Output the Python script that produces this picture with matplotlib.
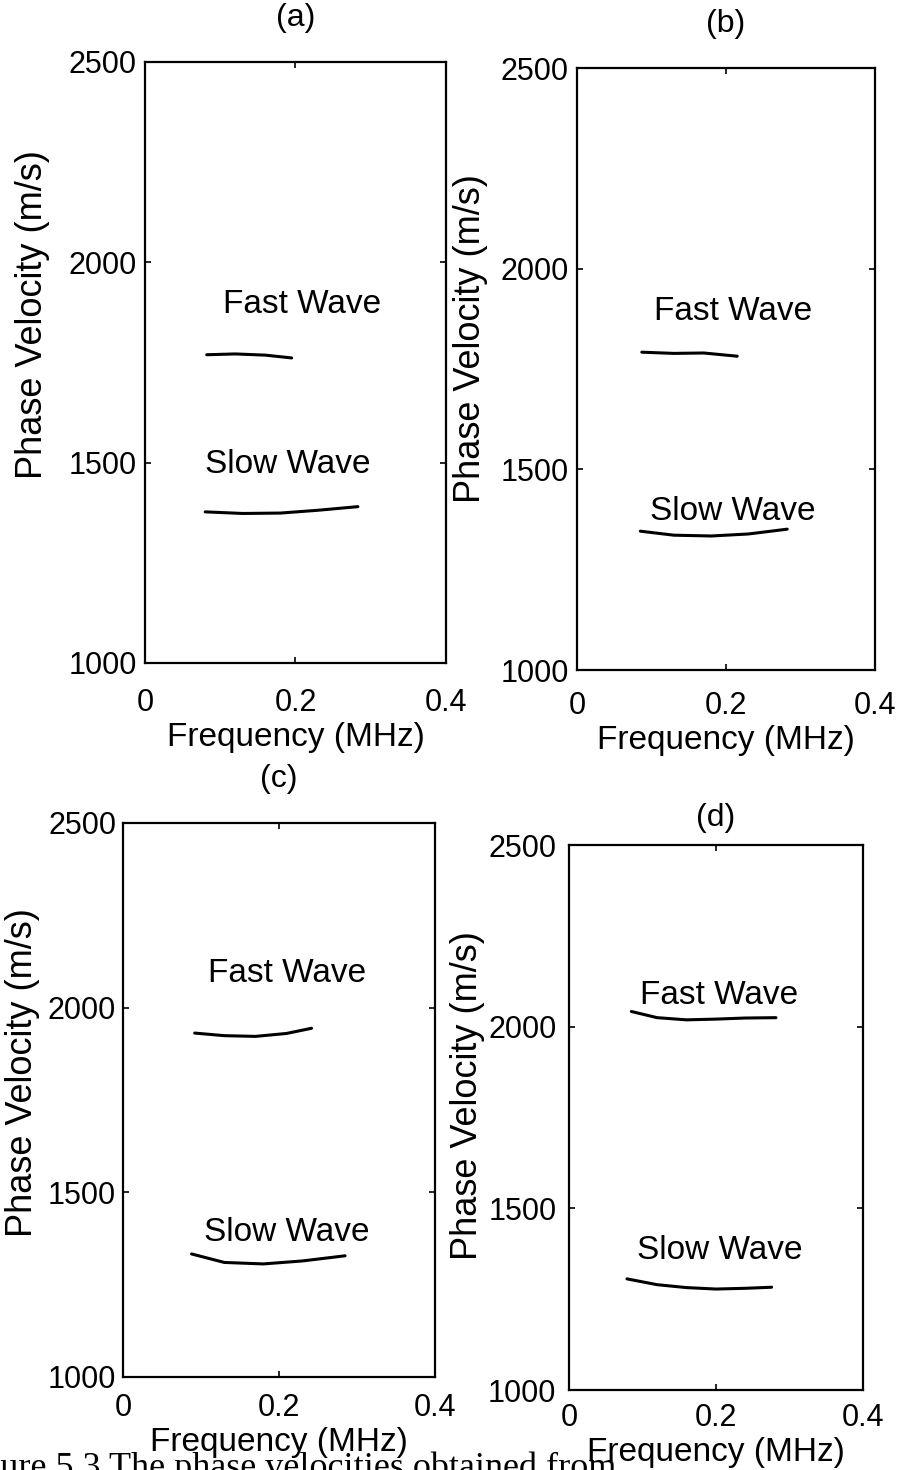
import numpy as np
import matplotlib
matplotlib.use('Agg')
import matplotlib.pyplot as plt

plt.rcParams['font.family'] = ['Liberation Sans', 'DejaVu Sans']

# (frequency in MHz, phase velocity in m/s)
a_fast_f = [0.082, 0.12, 0.16, 0.195]
a_fast_v = [1769, 1771, 1768, 1761]
a_slow_f = [0.080, 0.13, 0.18, 0.23, 0.283]
a_slow_v = [1377, 1373, 1374, 1381, 1390]

b_fast_f = [0.087, 0.13, 0.17, 0.215]
b_fast_v = [1792, 1789, 1790, 1782]
b_slow_f = [0.085, 0.13, 0.18, 0.23, 0.282]
b_slow_v = [1346, 1336, 1334, 1339, 1351]

c_fast_f = [0.092, 0.13, 0.17, 0.21, 0.242]
c_fast_v = [1931, 1924, 1922, 1930, 1944]
c_slow_f = [0.088, 0.13, 0.18, 0.23, 0.285]
c_slow_v = [1333, 1310, 1306, 1314, 1328]

d_fast_f = [0.085, 0.12, 0.16, 0.20, 0.24, 0.282]
d_fast_v = [2042, 2025, 2019, 2021, 2024, 2025]
d_slow_f = [0.079, 0.12, 0.16, 0.20, 0.24, 0.276]
d_slow_v = [1306, 1290, 1282, 1278, 1280, 1283]

panel_titles = ['(a)', '(b)', '(c)', '(d)']
x_ticks = [0, 0.2, 0.4]
x_ticklabels = ['0', '0.2', '0.4']
y_ticks = [1000, 1500, 2000, 2500]

fig = plt.figure(figsize=(8.98, 14.7), dpi=100)

# axes boxes in figure fractions [left, bottom, width, height]
boxes = [
    [0.1615, 0.549, 0.335, 0.409],
    [0.6425, 0.5442, 0.332, 0.4095],
    [0.137, 0.0633, 0.347, 0.3769],
    [0.6336, 0.0544, 0.327, 0.3707],
]
# label positions (freq, velocity) for each panel
fast_pos = [(0.209, 1894), (0.209, 1894), (0.21, 2092), (0.205, 2086)]
slow_pos = [(0.19, 1494), (0.209, 1394), (0.21, 1392), (0.205, 1383)]
ylab_x = [-0.315, -0.30, -0.266, -0.286]
ylab_y = [0.58, 0.55, 0.55, 0.54]
xpads = [18, 15, 11.5, 9.5]
ypads = [6, 6, 5, 9]
title_pads = [26, 26, 26, 14]

curves = [
    (a_fast_f, a_fast_v, a_slow_f, a_slow_v),
    (b_fast_f, b_fast_v, b_slow_f, b_slow_v),
    (c_fast_f, c_fast_v, c_slow_f, c_slow_v),
    (d_fast_f, d_fast_v, d_slow_f, d_slow_v),
]

for i in range(4):
    ax = fig.add_axes(boxes[i])
    ff, fv, sf, sv = curves[i]
    ax.plot(ff, fv, color='black', lw=2.2, solid_capstyle='round')
    ax.plot(sf, sv, color='black', lw=2.2, solid_capstyle='round')
    ax.text(fast_pos[i][0], fast_pos[i][1], 'Fast Wave', fontsize=24,
            ha='center', va='center')
    ax.text(slow_pos[i][0], slow_pos[i][1], 'Slow Wave', fontsize=24,
            ha='center', va='center')
    ax.set_xlim(0, 0.4)
    ax.set_ylim(1000, 2500)
    ax.set_xticks(x_ticks)
    ax.set_xticklabels(x_ticklabels)
    ax.set_yticks(y_ticks)
    ax.tick_params(direction='in', length=4, width=1.2, top=True, right=True,
                   labelsize=22)
    ax.tick_params(axis='x', pad=xpads[i])
    ax.tick_params(axis='y', pad=ypads[i])
    for s in ax.spines.values():
        s.set_linewidth(1.6)
    ax.set_xlabel('Frequency (MHz)', fontsize=24, labelpad=3)
    ax.set_ylabel('Phase Velocity (m/s)', fontsize=26)
    ax.yaxis.set_label_coords(ylab_x[i], ylab_y[i])
    ax.set_title(panel_titles[i], fontsize=23, pad=title_pads[i])

# caption, cut off by the page edge in the scan
fig.text(-0.053, -0.0048, 'Figure 5.3 The phase velocities obtained from',
         fontsize=26, family=['Liberation Serif', 'DejaVu Serif'],
         ha='left', va='baseline')

fig.savefig('out.png', dpi=100)
